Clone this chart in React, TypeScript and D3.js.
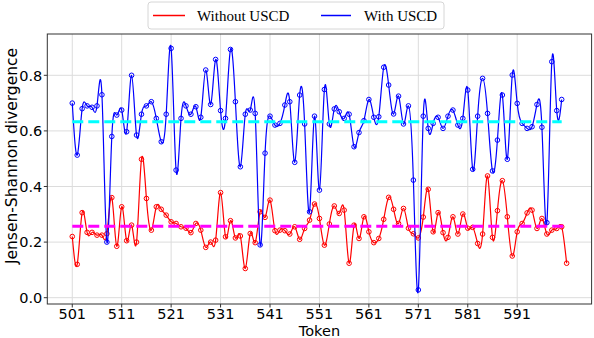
import React from "react";
import * as d3 from "d3";

const startToken = 501;
const withoutUSCD = [
  0.22, 0.12, 0.306, 0.235, 0.235, 0.225, 0.225, 0.23, 0.36, 0.185,
  0.327, 0.205, 0.261, 0.2, 0.498, 0.357, 0.243, 0.327, 0.318, 0.297,
  0.273, 0.267, 0.255, 0.25, 0.234, 0.267, 0.243, 0.181, 0.2, 0.207,
  0.378, 0.219, 0.277, 0.215, 0.222, 0.105, 0.231, 0.198, 0.309, 0.289,
  0.351, 0.241, 0.243, 0.241, 0.229, 0.255, 0.21, 0.249, 0.279, 0.337,
  0.285, 0.189, 0.265, 0.33, 0.303, 0.315, 0.124, 0.261, 0.213, 0.291,
  0.237, 0.198, 0.213, 0.282, 0.361, 0.318, 0.267, 0.321, 0.25, 0.23,
  0.215, 0.29, 0.39, 0.237, 0.306, 0.234, 0.217, 0.291, 0.229, 0.301,
  0.25, 0.253, 0.195, 0.229, 0.438, 0.217, 0.313, 0.421, 0.291, 0.15,
  0.237, 0.267, 0.305, 0.315, 0.249, 0.285, 0.229, 0.243, 0.249, 0.255,
  0.124,
];
const withUSCD = [
  0.7, 0.513, 0.68, 0.69, 0.685, 0.69, 0.73, 0.2, 0.58, 0.657,
  0.675, 0.597, 0.8, 0.585, 0.66, 0.69, 0.705, 0.645, 0.561, 0.66,
  0.897, 0.459, 0.645, 0.69, 0.66, 0.687, 0.649, 0.819, 0.695, 0.857,
  0.673, 0.645, 0.893, 0.705, 0.471, 0.66, 0.675, 0.663, 0.19, 0.52,
  0.653, 0.621, 0.627, 0.693, 0.705, 0.487, 0.729, 0.625, 0.309, 0.653,
  0.387, 0.749, 0.625, 0.679, 0.669, 0.645, 0.66, 0.543, 0.594, 0.637,
  0.713, 0.649, 0.651, 0.829, 0.765, 0.661, 0.725, 0.625, 0.69, 0.423,
  0.028, 0.653, 0.609, 0.627, 0.649, 0.609, 0.653, 0.675, 0.621, 0.645,
  0.747, 0.462, 0.653, 0.789, 0.663, 0.456, 0.567, 0.729, 0.498, 0.801,
  0.699, 0.627, 0.609, 0.615, 0.695, 0.613, 0.27, 0.849, 0.673, 0.713,
];
const meanWithout = 0.257;
const meanWith = 0.633;
const xTicks = [501, 511, 521, 531, 541, 551, 561, 571, 581, 591];
const yTicks = [0, 0.2, 0.4, 0.6, 0.8];
const seriesNames = ["Without USCD", "With USCD"];

export default function App() {
  const W = 594;
  const H = 338;
  const x = d3.scaleLinear().domain([495.95, 606.05]).range([47.3, 591.6]);
  const y = d3.scaleLinear().domain([-0.0227, 0.9486]).range([304, 34]);

  const redPts = withoutUSCD.map((v, i) => [startToken + i, v] as [number, number]);
  const bluePts = withUSCD.map((v, i) => [startToken + i, v] as [number, number]);

  const line = d3
    .line<[number, number]>()
    .x((d) => x(d[0]))
    .y((d) => y(d[1]))
    .curve(d3.curveNatural);

  const sans = "DejaVu Sans, sans-serif";
  const serif = "Liberation Serif, Times New Roman, serif";
  const [x0, x1] = x.range();
  const [yb, yt] = y.range();

  const redEnd = startToken + withoutUSCD.length - 1;
  const blueEnd = startToken + withUSCD.length - 1;

  return (
    <svg
      width={W}
      height={H}
      style={{ position: "absolute", left: 0, top: 0, background: "#fff" }}
    >
      <rect x={0} y={0} width={W} height={H} fill="#fff" />
      {xTicks.map((t) => (
        <line key={"gx" + t} x1={x(t)} x2={x(t)} y1={yt} y2={yb} stroke="#dcdcdc" strokeWidth={1} />
      ))}
      {yTicks.map((t) => (
        <line key={"gy" + t} x1={x0} x2={x1} y1={y(t)} y2={y(t)} stroke="#dcdcdc" strokeWidth={1} />
      ))}
      <path d={line(redPts) || ""} fill="none" stroke="#ff0000" strokeWidth={1.2} />
      {redPts.map((p, i) => (
        <circle key={"r" + i} cx={x(p[0])} cy={y(p[1])} r={2.3} fill="none" stroke="#ff0000" strokeWidth={1} />
      ))}
      <path d={line(bluePts) || ""} fill="none" stroke="#0000ff" strokeWidth={1.2} />
      {bluePts.map((p, i) => (
        <circle key={"b" + i} cx={x(p[0])} cy={y(p[1])} r={2.3} fill="none" stroke="#0000ff" strokeWidth={1} />
      ))}
      <line x1={x(startToken)} x2={x(redEnd)} y1={y(meanWithout)} y2={y(meanWithout)} stroke="#ff00ff" strokeWidth={3} strokeDasharray="11 5" />
      <line x1={x(startToken)} x2={x(blueEnd)} y1={y(meanWith)} y2={y(meanWith)} stroke="#00ffff" strokeWidth={3} strokeDasharray="11 5" />
      <rect x={x0} y={yt} width={x1 - x0} height={yb - yt} fill="none" stroke="#333" strokeWidth={1} />
      {xTicks.map((t) => (
        <g key={"xt" + t}>
          <line x1={x(t)} x2={x(t)} y1={yb} y2={yb + 3.5} stroke="#333" />
          <text x={x(t)} y={318.5} textAnchor="middle" fontFamily={sans} fontSize={14.5} fill="#000">
            {t}
          </text>
        </g>
      ))}
      {yTicks.map((t) => (
        <g key={"yt" + t}>
          <line x1={x0 - 3.5} x2={x0} y1={y(t)} y2={y(t)} stroke="#333" />
          <text x={x0 - 5} y={y(t)} dy="0.36em" textAnchor="end" fontFamily={sans} fontSize={14.5} fill="#000">
            {t.toFixed(1)}
          </text>
        </g>
      ))}
      <text x={(x0 + x1) / 2} y={335.5} textAnchor="middle" fontFamily={sans} fontSize={14.5} fill="#000">
        Token
      </text>
      <text
        transform={`translate(17,156) rotate(-90)`}
        textAnchor="middle"
        fontFamily={sans}
        fontSize={15.5}
        fill="#000"
      >
        Jensen-Shannon divergence
      </text>
      <rect x={148} y={2} width={296} height={27} rx={3} fill="#fff" stroke="#d6d6d6" strokeWidth={1} />
      <line x1={153} x2={185} y1={15.5} y2={15.5} stroke="#ff0000" strokeWidth={1.5} />
      <text x={197} y={20.5} fontFamily={serif} fontSize={15} fill="#000">
        {seriesNames[0]}
      </text>
      <line x1={321} x2={351} y1={15.5} y2={15.5} stroke="#0000ff" strokeWidth={1.5} />
      <text x={364} y={20.5} fontFamily={serif} fontSize={15} fill="#000">
        {seriesNames[1]}
      </text>
    </svg>
  );
}
